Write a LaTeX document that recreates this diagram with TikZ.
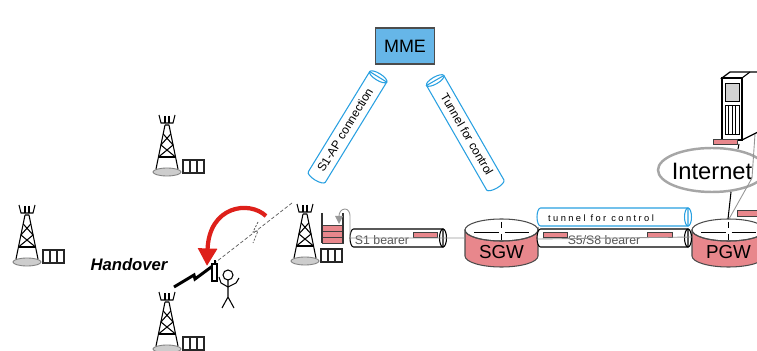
\documentclass[tikz,border=0pt]{standalone}
\usepackage{fontspec}
\setmainfont{Liberation Sans}
\usetikzlibrary{arrows.meta}

\definecolor{mmeblue}{RGB}{102,182,232}
\definecolor{tubeblue}{RGB}{40,160,225}
\definecolor{gwpink}{RGB}{232,135,140}
\definecolor{hored}{RGB}{222,32,26}
\definecolor{basegrey}{RGB}{205,205,205}
\definecolor{linkgrey}{RGB}{150,150,150}
\definecolor{labelgrey}{RGB}{85,85,85}

% open-ended tube: #1 start, #2 angle, #3 length, #4 half width, #5 colour
\newcommand\drawtube[5]{%
  \begin{scope}[shift={#1}, rotate=#2]
    \draw[#5, fill=white, line width=0.6pt] (3.5,-#4) -- (#3,-#4) -- (#3,#4) -- (3.5,#4)
      arc[start angle=90, end angle=270, x radius=3.5, y radius=#4] -- cycle;
    \draw[#5, line width=0.6pt] (#3,0) ellipse[x radius=3.5, y radius=#4];
  \end{scope}}

% gateway drum: #1 left x, #2 width
\newcommand\drawdrum[2]{%
  \draw[black!70, fill=gwpink, line width=0.6pt]
    (#1,230) -- (#1,256) arc[start angle=180, end angle=0, x radius=#2/2, y radius=11]
    -- (#1+#2,230) arc[start angle=0, end angle=180, x radius=#2/2, y radius=11] -- cycle;
  \draw[black!70, line width=0.6pt] (#1+#2/2,230) ellipse[x radius=#2/2, y radius=11];
  \draw[black, line width=0.5pt] (#1+9,232) -- (#1+#2/2-3,232) (#1+#2/2+3,232) -- (#1+#2-9,232);
  \draw[black, line width=0.5pt] (#1+#2/2,222) -- (#1+#2/2,228) (#1+#2/2,234) -- (#1+#2/2,240);}

\tikzset{
  tower/.pic={
    \draw[gray, fill=basegrey, line width=0.5pt] (0,0) ellipse[x radius=14, y radius=4];
    \begin{scope}[black, line width=0.6pt]
      \draw (-8,-57) -- (-6,-49) -- (6,-49) -- (8,-57);
      \draw (-2,-56) -- (-2,-49) (2,-56) -- (2,-49);
      \draw (-2,-47) -- (-11,-3) (2,-47) -- (11,-3) (-2,-47) -- (2,-47);
      \draw (-3.8,-38) -- (6.1,-27) (3.8,-38) -- (-6.1,-27);
      \draw (-6.1,-27) -- (8.5,-15) (6.1,-27) -- (-8.5,-15);
      \draw (-8.5,-15) -- (8.5,-15);
    \end{scope}
    \draw[black!85, fill=white, line width=0.6pt] (16,-12) rectangle (37,1);
    \draw[black!85, line width=0.6pt] (23,-12) -- (23,1) (30,-12) -- (30,1);
  },
  pinkbar/.style={draw=black!75, fill=gwpink, line width=0.5pt},
  tubelabel/.style={font=\fontsize{6.8}{8}\selectfont, inner sep=0pt},
  bearerlabel/.style={font=\fontsize{7}{8}\selectfont, text=labelgrey, inner sep=0pt},
  gwlabel/.style={font=\fontsize{10.7}{12}\selectfont, inner sep=0pt},
  link/.style={linkgrey, line width=0.5pt}
}

\begin{document}
\begin{tikzpicture}[x=0.02cm, y=-0.02cm]
\useasboundingbox (0,0) rectangle (757,351);
\clip (0,0) rectangle (757,351);

% radio cells
\pic at (167,172) {tower};
\pic at (27,262) {tower};
\pic at (167,349) {tower};
\pic at (305,261) {tower};

% eNB queue
\draw[pinkbar] (322,225) rectangle (343,231);
\draw[pinkbar] (322,231) rectangle (343,237);
\draw[pinkbar] (322,237) rectangle (343,243);
\draw[black!80, line width=0.6pt] (322,213) -- (322,243) (343,213) -- (343,243);
\fill[gray!80] (335,216) -- (343,216) -- (339,224) -- cycle;
\coordinate (qtop) at (339,216);

% MME
\node[draw=black!70, fill=mmeblue, line width=0.7pt, inner sep=0pt,
      minimum width=1.18cm, minimum height=0.72cm, font=\fontsize{10.2}{12}\selectfont]
      (mme) at (405,46) {MME};

% control tubes towards the MME
\drawtube{(315,180)}{58.5}{121}{10}{tubeblue}
\node[tubelabel, rotate=58.5] (s1ap) at (345,130) {S1-AP connection};
\drawtube{(497,188)}{119.9}{124}{10}{tubeblue}
\node[tubelabel, rotate=-60] (ctrl) at (467,134) {Tunnel for control};

% gateways
\drawdrum{465}{73}
\node[gwlabel] (sgw) at (501.5,252) {SGW};
\drawdrum{692}{73}
\node[gwlabel] (pgw) at (728.5,252) {PGW};

% bearers
\drawtube{(350,238)}{0}{93}{9}{black}
\draw[pinkbar] (413,232) rectangle (437,237);
\drawtube{(537,217)}{0}{151}{9}{tubeblue}
\drawtube{(537,238)}{0}{151}{9}{black}
\draw[pinkbar] (543,232) rectangle (567,237);
\draw[pinkbar] (647,232) rectangle (672,237);
\node[bearerlabel] (s1b) at (382,240) {S1 bearer};
\node[bearerlabel] (s5b) at (604,240) {S5/S8 bearer};
\node[inner sep=0pt, font=\fontsize{5.3}{6}\selectfont\addfontfeature{LetterSpace=26}] (tfc) at (601,218) {tunnel for control};

% user plane path
\draw[link] (qtop) to[out=90, in=180] (345,209) to[out=0, in=90] (350,216) -- (350,238) -- (465,238);
\draw[link] (538,239) -- (692,237);

% Internet and server
\draw[black!35, fill=white, line width=1.4pt] (712,170) ellipse[x radius=54, y radius=22];
\node[font=\fontsize{13.5}{15}\selectfont, inner sep=0pt] (inet) at (712,171) {Internet};
\draw[black, line width=0.6pt] (731,192) -- (728,219);
\draw[link] (755,134) -- (752,178) -- (729,219);
\draw[pinkbar] (737,210) rectangle (757,216);

\draw[black, fill=white, line width=0.7pt] (722,78) -- (730,72) -- (760,72) -- (760,131) -- (742,140) -- (742,78) -- cycle;
\draw[black, line width=0.6pt] (742,78) -- (750,72);
\draw[black, fill=white, line width=0.9pt] (722,78) rectangle (742,140);
\draw[black, fill=gray!35, line width=0.5pt] (725,83) rectangle (739,101);
\draw[black, line width=0.4pt, xstep=3.5, ystep=3.625, shift={(725,105)}] (0,0) grid (14,29);
\draw[black, line width=0.5pt] (725,105) rectangle (739,134);
\draw[black, line width=0.6pt] (739,144) -- (738,149);
\draw[pinkbar] (713,139) rectangle (737,144);

% handover
\node[font=\fontsize{9.5}{11}\bfseries\itshape, inner sep=0pt] (ho) at (129,265) {Handover};
\draw[gray!70!black, line width=0.4pt, dash pattern=on 2pt off 1.2pt] (292,203) -- (216,262);
\draw[gray!70!black, line width=0.4pt, dash pattern=on 1.2pt off 0.8pt] (258,222) -- (253,232) -- (258,231) -- (253,243);
\draw[black, line width=1.7pt] (174,287) -- (194,275) -- (195,279) -- (214,265);
\draw[hored, line width=2.4pt, -{Triangle[length=10pt, width=10.5pt]}]
  (266,216) .. controls (249,200) and (209,206) .. (207,266);

% subscriber with handset
\begin{scope}[black, line width=0.6pt]
  \draw (228,275) circle[radius=5];
  \draw (228,280) -- (228,297) -- (222,308) (228,297) -- (234,308);
  \draw (219,277) -- (221,283) -- (228,287) -- (236,283) -- (239,278);
  \draw[fill=white] (212,264) rectangle (217,281);
  \draw (215,264) -- (215,260);
\end{scope}
\end{tikzpicture}
\end{document}
